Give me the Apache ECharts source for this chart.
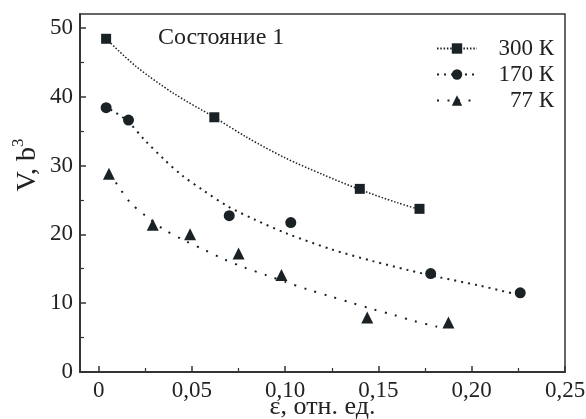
<!DOCTYPE html>
<html>
<head>
<meta charset="utf-8">
<script src="https://cdn.jsdelivr.net/npm/echarts@6/dist/echarts.min.js"></script>
<style>html,body{margin:0;padding:0;background:#fff}#c{width:586px;height:419px}</style>
</head>
<body>
<div id="c"></div>
<script>
// ---- data ----
const seriesNames = ['300 К', '170 К', '77 К'];
const xTickValues = [0, 0.05, 0.10, 0.15, 0.20, 0.25];
const xMinorTicks = [0.025, 0.075, 0.125, 0.175, 0.225];
const yTickValues = [0, 10, 20, 30, 40, 50];
const yMinorTicks = [5, 15, 25, 35, 45];

const eps300 = [0.004, 0.062, 0.140, 0.172];
const v300   = [48.4, 37.0, 26.6, 23.7];
const eps170 = [0.004, 0.016, 0.070, 0.103, 0.178, 0.226];
const v170   = [38.4, 36.6, 22.7, 21.7, 14.3, 11.5];
const eps77  = [0.0055, 0.029, 0.049, 0.075, 0.098, 0.144, 0.1875];
const v77    = [28.8, 21.4, 20.0, 17.2, 14.1, 7.9, 7.2];

// fitted curves
const fitEps300 = [0.004, 0.02, 0.04, 0.062, 0.08, 0.10, 0.12, 0.14, 0.16, 0.172];
const fitV300   = [48.4, 44.4, 40.5, 37.0, 34.0, 31.1, 28.7, 26.5, 24.6, 23.6];
const fitEps170 = [0.003, 0.009, 0.016, 0.025, 0.035, 0.045, 0.056, 0.069, 0.084, 0.101, 0.125, 0.147, 0.166, 0.182, 0.205, 0.222];
const fitV170   = [38.6, 37.7, 36.3, 33.6, 30.9, 28.5, 26.4, 24.1, 22.1, 20.1, 17.8, 16.1, 14.8, 13.8, 12.5, 11.4];
const fitEps77  = [0.006, 0.010, 0.017, 0.026, 0.035, 0.046, 0.057, 0.067, 0.078, 0.090, 0.100, 0.112, 0.124, 0.135, 0.146, 0.158, 0.169, 0.181, 0.186];
const fitV77    = [28.8, 27.2, 24.6, 22.5, 20.7, 19.1, 17.7, 16.4, 15.2, 14.05, 13.1, 12.0, 11.0, 10.1, 9.2, 8.3, 7.4, 6.6, 6.2];

const zip = (a, b) => a.map((v, i) => [v, b[i]]);
const FONT = '"Liberation Serif", "Times New Roman", serif';
const INK = '#1b2226';
const AX = '#333';
const TXT = '#222';

const chart = echarts.init(document.getElementById('c'), null, {renderer: 'canvas'});

const axisCommon = {
  axisLine: {show: true, onZero: false, lineStyle: {color: AX, width: 1.5}},
  splitLine: {show: false}
};

function curve(name, fe, fv, symbol, size, dash, width) {
  return {
    type: 'line', name: name, data: zip(fe, fv), smooth: 0.3,
    showSymbol: false, symbol: symbol, symbolSize: size,
    itemStyle: {color: INK},
    lineStyle: {color: INK, width: width, type: dash, cap: 'butt'},
    silent: true, z: 2, xAxisIndex: 0, yAxisIndex: 0
  };
}
function pts(name, e, v, symbol, size) {
  return {
    type: 'scatter', name: name, data: zip(e, v), symbol: symbol, symbolSize: size,
    itemStyle: {color: INK, opacity: 1}, silent: true, z: 3, xAxisIndex: 0, yAxisIndex: 0
  };
}

chart.setOption({
  animation: false,
  grid: {left: 80, right: 21, top: 14, bottom: 47, show: true, borderColor: AX, borderWidth: 1.5,
    containLabel: false, outerBoundsMode: 'none'},
  xAxis: [{
    ...axisCommon, type: 'value', min: -0.01, max: 0.25,
    axisTick: {show: true, inside: true, length: 6, customValues: xTickValues, lineStyle: {color: AX, width: 1.5}},
    axisLabel: {customValues: xTickValues, margin: 7, color: TXT, fontFamily: FONT, fontSize: 23,
      formatter: v => v === 0 ? '0' : v.toFixed(2).replace('.', ',')},
    name: 'ε, отн. ед.', nameLocation: 'middle', nameGap: 24, nameMoveOverlap: false,
    nameTextStyle: {fontFamily: FONT, fontSize: 26, color: TXT, lineHeight: 22}
  }, {
    ...axisCommon, type: 'value', min: -0.01, max: 0.25, position: 'bottom',
    axisTick: {show: true, inside: true, length: 4, customValues: xMinorTicks, lineStyle: {color: AX, width: 1.2}},
    axisLabel: {show: false}
  }],
  yAxis: [{
    ...axisCommon, type: 'value', min: 0, max: 52,
    axisTick: {show: true, inside: true, length: 6, customValues: yTickValues, lineStyle: {color: AX, width: 1.5}},
    axisLabel: {customValues: yTickValues, margin: 7, color: TXT, fontFamily: FONT, fontSize: 23},
    name: 'V, b{s|3}', nameLocation: 'middle', nameGap: 34, nameRotate: 90, nameMoveOverlap: false,
    nameTextStyle: {fontFamily: FONT, fontSize: 28, color: TXT, lineHeight: 28, padding: [0, 0, 0, 56],
      rich: {s: {fontFamily: FONT, fontSize: 17, lineHeight: 36, verticalAlign: 'top', color: TXT}}}
  }, {
    ...axisCommon, type: 'value', min: 0, max: 52, position: 'left',
    axisTick: {show: true, inside: true, length: 4, customValues: yMinorTicks, lineStyle: {color: AX, width: 1.2}},
    axisLabel: {show: false}
  }],
  legend: {
    orient: 'vertical', right: 32, top: 37, padding: 0, itemWidth: 40, itemHeight: 13, itemGap: 3,
    selectedMode: false, data: seriesNames,
    formatter: n => '{a|' + n + '}',
    textStyle: {fontFamily: FONT, fontSize: 23, color: TXT, lineHeight: 13,
      rich: {a: {fontFamily: FONT, fontSize: 23, lineHeight: 13, color: TXT, width: 72, align: 'right'}}}
  },
  graphic: [{
    type: 'text', left: 158, top: 26,
    style: {text: 'Состояние 1', font: '24px "Liberation Serif"', fill: TXT}
  }],
  series: [
    curve('300 К', fitEps300, fitV300, 'rect', 9, [1.5, 1.8], 1.5),
    curve('170 К', fitEps170, fitV170, 'circle', 10, [2, 5], 2),
    curve('77 К', fitEps77, fitV77, 'triangle', 11, [2, 8.5], 2),
    pts('300 К', eps300, v300, 'rect', 10),
    pts('170 К', eps170, v170, 'circle', 11),
    pts('77 К', eps77, v77, 'triangle', 12)
  ]
});
</script>
</body>
</html>
